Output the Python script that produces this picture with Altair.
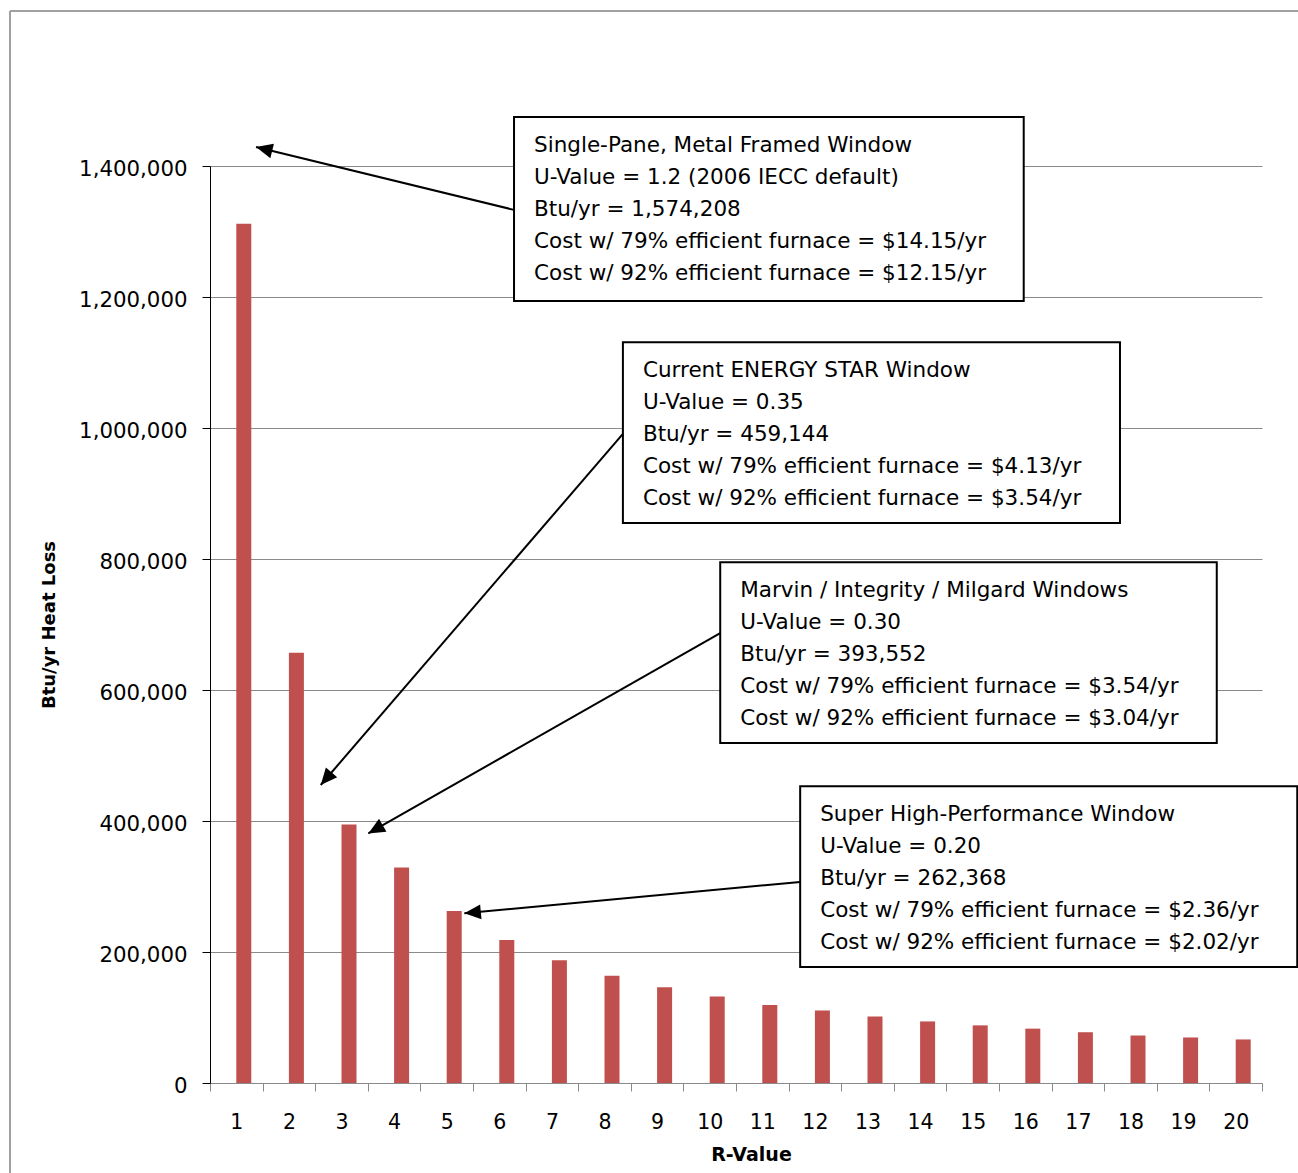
import math
import altair as alt
import pandas as pd

# ---- data ----
r_values = list(range(1, 21))
heat_loss = [1311800, 657000, 394500, 329000, 262500, 218500, 187500, 163800,
             146000, 132000, 119100, 110500, 101500, 94000, 88000, 83000,
             77500, 72500, 69500, 66500]

y_ticks = [0, 200000, 400000, 600000, 800000, 1000000, 1200000, 1400000]
x_tick_edges = [i + 0.5 for i in range(0, 21)]

box_texts = [
    "Single-Pane, Metal Framed Window\nU-Value = 1.2 (2006 IECC default)\nBtu/yr = 1,574,208\nCost w/ 79% efficient furnace = $14.15/yr\nCost w/ 92% efficient furnace = $12.15/yr",
    "Current ENERGY STAR Window\nU-Value = 0.35\nBtu/yr = 459,144\nCost w/ 79% efficient furnace = $4.13/yr\nCost w/ 92% efficient furnace = $3.54/yr",
    "Marvin / Integrity / Milgard Windows\nU-Value = 0.30\nBtu/yr = 393,552\nCost w/ 79% efficient furnace = $3.54/yr\nCost w/ 92% efficient furnace = $3.04/yr",
    "Super High-Performance Window\nU-Value = 0.20\nBtu/yr = 262,368\nCost w/ 79% efficient furnace = $2.36/yr\nCost w/ 92% efficient furnace = $2.02/yr",
]
# annotation boxes in data units (x: R-value axis, y: Btu/yr)
box_x1 = [6.28, 8.35, 10.20, 11.72]
box_x2 = [15.97, 17.80, 19.64, 21.17]
box_y1 = [1194000, 855000, 519000, 177000]
box_y2 = [1475000, 1131000, 795000, 453000]

# arrows in data units
arrow_x_start = [6.28, 8.35, 10.20, 11.72]
arrow_y_start = [1333000, 991000, 687000, 307000]
arrow_x_tip = [1.375, 2.605, 3.51, 5.335]
arrow_y_tip = [1429000, 455000, 381000, 259000]

# ---- layout ----
W, H = 1052, 917
X_DOM = [0.5, 20.5]
Y_DOM = [0, 1400000]
px_x = W / (X_DOM[1] - X_DOM[0])
px_y = H / (Y_DOM[1] - Y_DOM[0])

FONT = "DejaVu Sans"
BAR_COLOR = "#C0504D"
GRID = "#8a8a8a"

bars = pd.DataFrame({"r": r_values, "loss": heat_loss})
boxes = pd.DataFrame({"x1": box_x1, "x2": box_x2, "y1": box_y1, "y2": box_y2,
                      "label": box_texts})
angles = []
for xs, ys, xt, yt in zip(arrow_x_start, arrow_y_start, arrow_x_tip, arrow_y_tip):
    dxp = (xt - xs) * px_x
    dyp = -(yt - ys) * px_y
    angles.append(math.degrees(math.atan2(dyp, dxp)) % 360)
arrows = pd.DataFrame({"xs": arrow_x_start, "ys": arrow_y_start,
                       "xt": arrow_x_tip, "yt": arrow_y_tip, "angle": angles})

xscale = alt.Scale(domain=X_DOM, nice=False, zero=False, padding=0)
yscale = alt.Scale(domain=Y_DOM, nice=False, padding=0)

x_axis = alt.Axis(
    title="R-Value", values=x_tick_edges,
    labelExpr="datum.value < 20 ? format(datum.value + 0.5, 'd') : ''",
    labelOffset=px_x / 2, labelPadding=21, labelFontSize=20.5,
    labelOverlap=False, labelFlush=False, labelBound=False,
    grid=False, domainColor=GRID, tickColor=GRID, tickSize=8,
    titleFontSize=19, titleFontWeight="bold", titleX=541, titleY=71,
    titleBaseline="middle", titleAlign="center",
)
y_axis = alt.Axis(
    title="Btu/yr Heat Loss", values=y_ticks, format=",d",
    labelPadding=15, labelFontSize=21.3, labelOffset=3,
    grid=True, gridColor=GRID, gridWidth=1,
    domainColor="black", tickColor="black", tickSize=8,
    titleFontSize=18, titleFontWeight="bold", titleAngle=270,
    titleX=-161, titleY=H / 2, titleBaseline="middle", titleAlign="center",
)

bar_layer = alt.Chart(bars).mark_bar(size=15, xOffset=7.5, color=BAR_COLOR).encode(
    x=alt.X("r:Q", scale=xscale, axis=x_axis),
    y=alt.Y("loss:Q", scale=yscale, axis=y_axis),
)

box_layer = alt.Chart(boxes).mark_rect(fill="white", stroke="black", strokeWidth=2).encode(
    x=alt.X("x1:Q", scale=xscale, axis=x_axis), x2="x2:Q",
    y=alt.Y("y1:Q", scale=yscale, axis=y_axis), y2="y2:Q",
)

text_layer = alt.Chart(boxes).mark_text(
    align="left", baseline="alphabetic", dx=20, dy=35, lineBreak="\n",
    lineHeight=32, font=FONT, fontSize=21.5, color="black",
).encode(
    x=alt.X("x1:Q", scale=xscale, axis=x_axis),
    y=alt.Y("y2:Q", scale=yscale, axis=y_axis),
    text="label:N",
)

arrow_lines = alt.Chart(arrows).mark_rule(color="black", strokeWidth=2).encode(
    x=alt.X("xs:Q", scale=xscale, axis=x_axis), x2="xt:Q",
    y=alt.Y("ys:Q", scale=yscale, axis=y_axis), y2="yt:Q",
)

arrow_heads = alt.Chart(arrows).mark_point(
    shape="M0,0L-1,-0.45L-1,0.45Z", filled=True, fill="black", opacity=1,
    strokeWidth=0, size=1100,
).encode(
    x=alt.X("xt:Q", scale=xscale, axis=x_axis),
    y=alt.Y("yt:Q", scale=yscale, axis=y_axis),
    angle=alt.Angle("angle:Q", scale=None),
)

frame_left = alt.Chart(bars).mark_rule(color="#a0a0a0", strokeWidth=1.5).encode(
    x=alt.value(-200), y=alt.value(-155), y2=alt.value(1010),
)
frame_top = alt.Chart(bars).mark_rule(color="#a0a0a0", strokeWidth=1.5).encode(
    x=alt.value(-200), x2=alt.value(1090), y=alt.value(-155),
)

chart = alt.layer(
    frame_left, frame_top, bar_layer, box_layer, text_layer, arrow_lines, arrow_heads
).properties(
    width=W, height=H,
    autosize=alt.AutoSizeParams(type="none"),
    padding={"left": 210, "top": 166, "right": 36, "bottom": 90},
    background="white",
).configure_view(stroke=None).configure_axis(
    labelFont=FONT, titleFont=FONT, labelColor="black", titleColor="black",
)

chart.save("out.html", embed_options={"renderer": "svg", "actions": False})
